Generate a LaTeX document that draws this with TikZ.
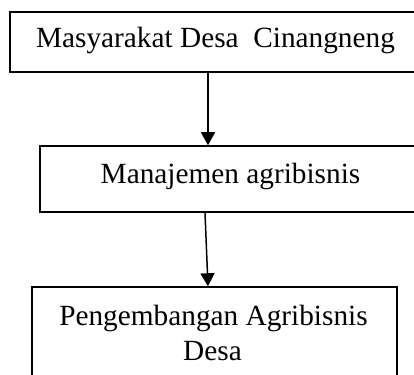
\documentclass[tikz,border=0pt]{standalone}
\usepackage{fontspec}
\setmainfont{Liberation Serif}
\usetikzlibrary{arrows.meta}
\tikzset{
  boxstyle/.style={draw=black, line width=1.5pt, rectangle, inner sep=0pt},
  labelstyle/.style={font=\fontsize{29.3}{35}\selectfont, anchor=base, inner sep=0pt},
  arrowstyle/.style={line width=1.5pt, -{Triangle[width=14pt,length=13pt]}}
}
\begin{document}
\begin{tikzpicture}[x=1pt,y=-1pt]
\useasboundingbox (0,0) rectangle (414,374);
\clip (0,0) rectangle (414,374);
\node[boxstyle, minimum width=410pt, minimum height=60pt] (b1) at (215,42) {};
\node[boxstyle, minimum width=380pt, minimum height=66pt] (b2) at (230,179) {};
\node[boxstyle, minimum width=365pt, minimum height=93pt] (b3) at (214.5,333.5) {};
\node[labelstyle] (t1) at (215.5,48) {Masyarakat Desa\ \ Cinangneng};
\node[labelstyle] (t2) at (230.5,183) {Manajemen agribisnis};
\node[labelstyle] (t3) at (213.5,325) {Pengembangan Agribisnis};
\node[labelstyle] (t4) at (212.5,360) {Desa};
\coordinate (a1s) at (b1.south -| 208,0);
\coordinate (a1e) at (b2.north -| 208,0);
\coordinate (a2s) at (b2.south -| 205,0);
\coordinate (a2e) at (b3.north -| 208,0);
\draw[arrowstyle] (a1s) -- (a1e);
\draw[arrowstyle] (a2s) -- (a2e);
\end{tikzpicture}
\end{document}
